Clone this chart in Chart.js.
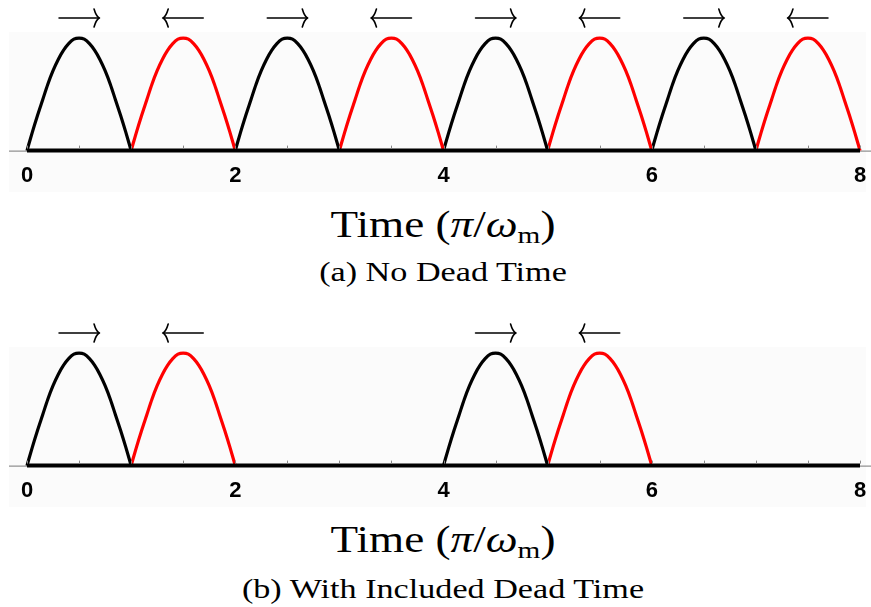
<!DOCTYPE html>
<html>
<head>
<meta charset="utf-8">
<script src="https://cdn.jsdelivr.net/npm/chart.js@4/dist/chart.umd.min.js"></script>
<style>
  body { margin: 0; background: #fff; width: 871px; height: 607px; position: relative; overflow: hidden; }
  .panel { position: absolute; left: 0; width: 871px; height: 200px; }
  .caption { position: absolute; left: 0; width: 886px; text-align: center; font-family: "Liberation Serif", serif; color: #000; transform: scaleX(1.22); transform-origin: 443px 0; }
  .axis-title { font-size: 37px; }
  .sub-title { font-size: 28px; }
  sub { font-size: 24px; vertical-align: -6px; line-height: 0; }
</style>
</head>
<body>
<div class="panel" style="top:0"><canvas id="chartA" width="871" height="200"></canvas></div>
<div class="caption axis-title" style="top:203px">Time (<i>π</i>/<i>ω</i><sub>m</sub>)</div>
<div class="caption sub-title" style="top:256px">(a) No Dead Time</div>

<div class="panel" style="top:315px"><canvas id="chartB" width="871" height="200"></canvas></div>
<div class="caption axis-title" style="top:518px">Time (<i>π</i>/<i>ω</i><sub>m</sub>)</div>
<div class="caption sub-title" style="top:573px">(b) With Included Dead Time</div>

<script>
// Shape of one pulse: offset within the pulse (in π/ωm) and relative height
const pulseOffsets = [0, 0.05, 0.1, 0.15, 0.2, 0.25, 0.3, 0.35, 0.4, 0.45, 0.5,
                      0.55, 0.6, 0.65, 0.7, 0.75, 0.8, 0.85, 0.9, 0.95, 1];
const pulseHeights = [0, 0.16, 0.31, 0.45, 0.59, 0.71, 0.81, 0.89, 0.95, 0.99, 1,
                      0.99, 0.95, 0.89, 0.81, 0.71, 0.59, 0.45, 0.31, 0.16, 0];

// Pulse start times and direction (1 = forward / black, -1 = backward / red)
const startsA = [0, 1, 2, 3, 4, 5, 6, 7];
const dirsA = [1, -1, 1, -1, 1, -1, 1, -1];
const startsB = [0, 1, 4, 5];
const dirsB = [1, -1, 1, -1];

const timeMin = 0;
const timeMax = 8;
const tickStep = 2;

const fwdColor = '#000000';
const backColor = '#ff0000';

function pulseData(start) {
    return pulseOffsets.map((o, i) => ({ x: start + o, y: pulseHeights[i] }));
}

// Background panel, thin axis line, small ticks and direction arrows
const decorPlugin = {
    id: 'decor',
    beforeDraw(chart) {
        const ctx = chart.ctx;
        const ys = chart.scales.y;
        const y0 = ys.getPixelForValue(0);
        ctx.save();
        ctx.fillStyle = '#fbfbfb';
        ctx.fillRect(9, 32, 857, 160);
        ctx.strokeStyle = '#777';
        ctx.lineWidth = 1;
        ctx.beginPath();
        ctx.moveTo(9, y0 + 0.5);
        ctx.lineTo(871, y0 + 0.5);
        ctx.stroke();
        ctx.restore();
    },
    afterDatasetsDraw(chart, args, opts) {
        const ctx = chart.ctx;
        const xs = chart.scales.x;
        const ys = chart.scales.y;
        const y0 = ys.getPixelForValue(0);
        ctx.save();
        ctx.strokeStyle = '#888';
        ctx.lineWidth = 1;
        for (let t = timeMin; t <= timeMax; t += 0.5) {
            const px = Math.round(xs.getPixelForValue(t)) + 0.5;
            ctx.beginPath();
            ctx.moveTo(px, y0 - 5);
            ctx.lineTo(px, y0 - 2);
            ctx.stroke();
        }
        // arrows above each pulse
        ctx.strokeStyle = '#000';
        ctx.lineWidth = 1.6;
        ctx.lineCap = 'round';
        const ay = 18;
        opts.starts.forEach((s, i) => {
            const cx = xs.getPixelForValue(s + 0.5);
            const d = opts.dirs[i];
            const tip = cx + d * 20;
            ctx.beginPath();
            ctx.moveTo(cx - d * 20, ay);
            ctx.lineTo(tip, ay);
            ctx.stroke();
            ctx.beginPath();
            ctx.moveTo(tip - d * 5, ay - 9);
            ctx.quadraticCurveTo(tip - d * 3, ay - 2, tip, ay);
            ctx.quadraticCurveTo(tip - d * 3, ay + 2, tip - d * 5, ay + 9);
            ctx.stroke();
        });
        ctx.restore();
    }
};

function makeChart(id, starts, dirs) {
    const datasets = [{
        data: [{ x: timeMin, y: 0 }, { x: timeMax, y: 0 }],
        borderColor: '#000',
        borderWidth: 4,
        pointRadius: 0,
        clip: false
    }];
    starts.forEach((s, i) => {
        datasets.push({
            data: pulseData(s),
            borderColor: dirs[i] > 0 ? fwdColor : backColor,
            borderWidth: 3.2,
            pointRadius: 0,
            clip: false,
            cubicInterpolationMode: 'monotone'
        });
    });
    return new Chart(document.getElementById(id).getContext('2d'), {
        type: 'line',
        data: { datasets: datasets },
        options: {
            responsive: false,
            animation: false,
            layout: { padding: { left: 27, right: 11, top: 32, bottom: 9 } },
            plugins: {
                legend: { display: false },
                tooltip: { enabled: false },
                decor: { starts: starts, dirs: dirs }
            },
            scales: {
                x: {
                    type: 'linear',
                    min: timeMin,
                    max: timeMax,
                    border: { display: false },
                    grid: { drawOnChartArea: false, drawTicks: true, tickLength: 10, color: 'rgba(0,0,0,0)' },
                    ticks: {
                        stepSize: tickStep,
                        padding: 2,
                        color: '#000',
                        maxRotation: 0,
                        font: { family: 'Liberation Sans', weight: 'bold', size: 22 }
                    }
                },
                y: {
                    display: false,
                    min: 0,
                    max: 1.054
                }
            }
        },
        plugins: [decorPlugin]
    });
}

makeChart('chartA', startsA, dirsA);
makeChart('chartB', startsB, dirsB);
</script>
</body>
</html>
